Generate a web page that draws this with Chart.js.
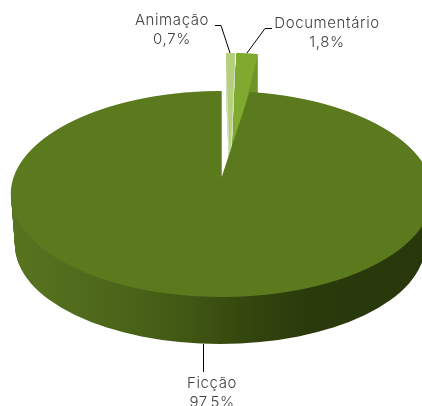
<!DOCTYPE html>
<html lang="pt">
<head>
<meta charset="utf-8">
<script src="https://cdn.jsdelivr.net/npm/chart.js@4"></script>
<style>html,body{margin:0;padding:0;background:#fff;overflow:hidden}canvas{display:block}</style>
</head>
<body>
<canvas id="c" width="422" height="406"></canvas>
<script>
const categories = ["Animação", "Documentário", "Ficção"];
const shares = [0.7, 1.8, 97.5];
const sliceColors = ["#b4d07c", "#80a92f", "#5b7a1e"];
const cutColors = ["#d3dfbd", "#6f962a", null];

const fmt = v => v.toFixed(1).replace(".", ",") + "%";

/* perspective of the top face: image y = (a v + b)/(c v + 1), image x = xc + G u/(c v + 1) */
const P = {xc: 221.7, G: 208, a: -71, b: 177, c: 0.165, top: 90, bottom: 299};
const vOf = y => (P.b - y) / (P.c * y - P.a);

function drawFace(ctx, el) {
  const R = el.outerRadius;
  for (let y = P.top; y < P.bottom; y++) {
    const v1 = vOf(y), v2 = vOf(y + 1), vm = (v1 + v2) / 2;
    const p1 = el.y - v1 * R, p2 = el.y - v2 * R;
    const sy = 1 / (p2 - p1), sx = P.G / (P.c * vm + 1) / R;
    ctx.save();
    ctx.beginPath();
    ctx.rect(0, y, 422, 1);
    ctx.clip();
    ctx.setTransform(sx, 0, 0, sy, P.xc - sx * el.x, y - sy * p1);
    el.draw(ctx);
    ctx.restore();
  }
}

function drawLifted(ctx, el, xa, ya, a, s, h, drop, color) {
  const R = el.outerRadius;
  const A = a / R, C = -s / R, D = h / R;
  const steps = color ? drop : 1;
  for (let i = steps; i >= (color ? 1 : 0) ; i--) {
    ctx.save();
    ctx.setTransform(A, 0, C, D, xa - A * el.x - C * el.y, ya + (color ? i : 0) - D * el.y);
    if (color) {
      const o = el.options;
      el.options = Object.assign({}, o, {backgroundColor: color});
      el.draw(ctx);
      el.options = o;
    } else {
      el.draw(ctx);
    }
    ctx.restore();
  }
}

function drawWall(ctx) {
  const g = ctx.createLinearGradient(11, 0, 422, 0);
  g.addColorStop(0, "#587420");
  g.addColorStop(0.2, "#4f691b");
  g.addColorStop(0.4, "#435a15");
  g.addColorStop(0.55, "#36490f");
  g.addColorStop(0.72, "#2a3a0b");
  g.addColorStop(1, "#29380b");
  ctx.save();
  ctx.beginPath();
  ctx.rect(0, 194, 422, 212);
  ctx.clip();
  ctx.fillStyle = g;
  const n = 50;
  for (let i = 0; i <= n; i++) {
    const t = i / n;
    ctx.beginPath();
    ctx.ellipse(222 - 2 * t, 194 + 51 * t, 211 - 6 * t, 103 - 4 * t, 0, 0, Math.PI * 2);
    ctx.fill();
  }
  ctx.restore();
}

const pie3d = {
  id: "pie3d",
  beforeDatasetsDraw(chart) {
    const ctx = chart.ctx;
    const els = chart.getDatasetMeta(0).data;
    drawWall(ctx);
    drawLifted(ctx, els[0], 230, 157, 203, -4, 104, 39, cutColors[0]);
    drawLifted(ctx, els[0], 230, 157, 203, -4, 104, 0, null);
    drawLifted(ctx, els[1], 232, 157, 190, -4, 104, 39, cutColors[1]);
    drawLifted(ctx, els[1], 232, 157, 190, -4, 104, 0, null);
    drawFace(ctx, els[2]);
    return false;
  },
  afterDraw(chart) {
    const ctx = chart.ctx;
    ctx.save();
    ctx.setTransform(1, 0, 0, 1, 0, 0);
    ctx.strokeStyle = "#000";
    ctx.lineWidth = 1;
    [[[215, 25.5], [221, 25.5], [230, 53]],
     [[272, 28.5], [265, 28.5], [247, 53]],
     [[203.5, 344], [203.5, 372]]].forEach(line => {
      ctx.beginPath();
      line.forEach((p, i) => i ? ctx.lineTo(p[0], p[1]) : ctx.moveTo(p[0], p[1]));
      ctx.stroke();
    });
    ctx.fillStyle = "#404040";
    ctx.font = "300 15px Inter";
    ctx.letterSpacing = "0.6px";
    ctx.textAlign = "center";
    ctx.textBaseline = "middle";
    const spots = [[172, 20.5, 39.5], [327, 23, 42], [212, 383, 402]];
    categories.forEach((name, i) => {
      ctx.fillText(name, spots[i][0], spots[i][1]);
      ctx.fillText(fmt(shares[i]), spots[i][0], spots[i][2]);
    });
    ctx.restore();
  }
};

new Chart(document.getElementById("c"), {
  type: "pie",
  data: {
    labels: categories,
    datasets: [{data: shares, backgroundColor: sliceColors, borderWidth: 0}]
  },
  options: {
    responsive: false,
    animation: false,
    rotation: 0,
    layout: {padding: 0},
    plugins: {legend: {display: false}, tooltip: {enabled: false}}
  },
  plugins: [pie3d]
});
</script>
</body>
</html>
